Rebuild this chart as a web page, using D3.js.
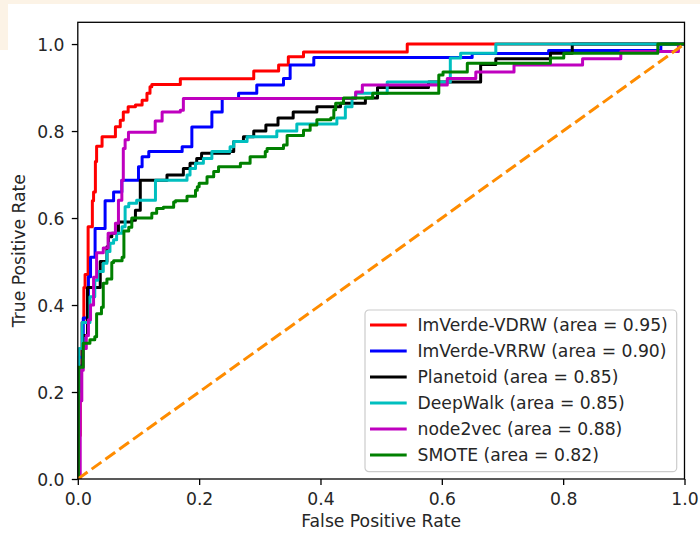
<!DOCTYPE html>
<html>
<head>
<meta charset="utf-8">
<script src="https://cdn.jsdelivr.net/npm/d3@7"></script>
<style>
  body { margin: 0; background: #fff; }
  text { font-family: "DejaVu Sans", sans-serif; fill: #262626; }
</style>
</head>
<body>
<div id="chart"></div>
<script>
const width = 700;
const height = 533;
const fontSize = "17.2px";

// ROC points [fpr, tpr]
const rocVDRW = [[0,0],[0,0.1],[0.004,0.3],[0.007,0.36],[0.01,0.44],[0.012,0.47],[0.017,0.58],[0.024,0.64],[0.026,0.66],[0.029,0.73],[0.031,0.765],[0.04,0.787],[0.062,0.81],[0.07,0.825],[0.075,0.844],[0.083,0.856],[0.095,0.86],[0.106,0.871],[0.114,0.887],[0.119,0.902],[0.122,0.907],[0.169,0.92],[0.29,0.938],[0.331,0.952],[0.347,0.971],[0.372,0.982],[0.543,1.0],[1,1]];
const rocVRRW = [[0,0],[0,0.28],[0.009,0.37],[0.0175,0.465],[0.021,0.51],[0.0285,0.576],[0.045,0.64],[0.059,0.66],[0.0726,0.687],[0.1,0.718],[0.106,0.741],[0.117,0.753],[0.172,0.764],[0.188,0.809],[0.221,0.844],[0.238,0.875],[0.265,0.887],[0.295,0.906],[0.339,0.921],[0.35,0.952],[0.389,0.969],[0.65,0.978],[0.776,0.985],[0.961,1.0],[1,1]];
const rocPlanetoid = [[0,0],[0,0.2],[0.002,0.26],[0.008,0.33],[0.016,0.44],[0.037,0.5],[0.048,0.534],[0.0505,0.557],[0.056,0.565],[0.067,0.591],[0.089,0.595],[0.095,0.618],[0.103,0.687],[0.147,0.699],[0.174,0.714],[0.185,0.726],[0.196,0.737],[0.204,0.749],[0.25,0.753],[0.257,0.776],[0.273,0.787],[0.29,0.8],[0.31,0.814],[0.33,0.83],[0.355,0.844],[0.394,0.856],[0.433,0.864],[0.474,0.876],[0.494,0.9],[0.578,0.913],[0.664,0.953],[0.689,0.966],[0.779,0.979],[0.815,1.0],[1,1]];
const rocDeepWalk = [[0,0],[0.002,0.3],[0.007,0.36],[0.02,0.419],[0.028,0.457],[0.033,0.477],[0.042,0.496],[0.048,0.523],[0.053,0.542],[0.059,0.55],[0.064,0.565],[0.073,0.58],[0.078,0.626],[0.084,0.634],[0.097,0.641],[0.128,0.687],[0.18,0.699],[0.185,0.714],[0.194,0.726],[0.207,0.737],[0.221,0.753],[0.251,0.764],[0.257,0.776],[0.279,0.787],[0.328,0.8],[0.361,0.816],[0.427,0.83],[0.441,0.856],[0.452,0.876],[0.458,0.887],[0.51,0.913],[0.614,0.968],[0.631,0.979],[0.689,1.0],[1,1]];
const rocNode2vec = [[0,0],[0.004,0.18],[0.0066,0.25],[0.009,0.3],[0.014,0.33],[0.0175,0.366],[0.021,0.4],[0.026,0.464],[0.031,0.52],[0.042,0.531],[0.05,0.565],[0.062,0.588],[0.067,0.641],[0.0726,0.687],[0.075,0.76],[0.078,0.78],[0.0835,0.797],[0.1276,0.823],[0.139,0.844],[0.169,0.848],[0.174,0.875],[0.458,0.89],[0.469,0.906],[0.609,0.921],[0.656,0.936],[0.719,0.952],[0.832,0.966],[0.895,0.983],[0.99,1.0],[1,1]];
const rocSMOTE = [[0,0],[0.001,0.257],[0.009,0.312],[0.02,0.32],[0.028,0.327],[0.031,0.38],[0.039,0.395],[0.042,0.45],[0.048,0.46],[0.056,0.498],[0.059,0.502],[0.073,0.51],[0.076,0.57],[0.084,0.579],[0.089,0.6],[0.122,0.611],[0.13,0.622],[0.141,0.625],[0.158,0.637],[0.161,0.64],[0.18,0.65],[0.194,0.664],[0.197,0.672],[0.2,0.68],[0.213,0.695],[0.224,0.707],[0.232,0.718],[0.268,0.726],[0.284,0.741],[0.309,0.753],[0.312,0.76],[0.339,0.768],[0.345,0.79],[0.372,0.802],[0.383,0.814],[0.394,0.826],[0.417,0.83],[0.422,0.849],[0.425,0.864],[0.438,0.876],[0.486,0.887],[0.595,0.929],[0.602,0.936],[0.642,0.956],[0.779,0.968],[0.801,0.979],[0.956,1.0],[1,1]];

const methods = ["ImVerde-VDRW", "ImVerde-VRRW", "Planetoid", "DeepWalk", "node2vec", "SMOTE"];
const areas = [0.95, 0.90, 0.85, 0.85, 0.88, 0.82];
const curves = [rocVDRW, rocVRRW, rocPlanetoid, rocDeepWalk, rocNode2vec, rocSMOTE];
const colors = ["#ff0000", "#0000ff", "#000000", "#00bfbf", "#bf00bf", "#008000"];
const tickValues = [0, 0.2, 0.4, 0.6, 0.8, 1.0];

const svg = d3
  .select("#chart")
  .append("svg")
  .attr("width", width)
  .attr("height", height);

// beige page edge of the screenshot
svg.append("rect").attr("width", width).attr("height", height).attr("fill", "#fff");
svg.append("rect").attr("width", width).attr("height", 4).attr("fill", "#fcf3e6");
svg.append("rect").attr("width", 8).attr("height", 50).attr("fill", "#fcf3e6");

const x = d3.scaleLinear().domain([0, 1]).range([77.8, 684.5]);
const y = d3.scaleLinear().domain([0, 1.05]).range([479, 22.3]);

svg
  .append("clipPath")
  .attr("id", "plot-clip")
  .append("rect")
  .attr("x", x(0))
  .attr("y", y(1.05))
  .attr("width", x(1) - x(0))
  .attr("height", y(0) - y(1.05));

const plot = svg.append("g").attr("clip-path", "url(#plot-clip)");

const line = d3
  .line()
  .x((d) => x(d[0]))
  .y((d) => y(d[1]))
  .curve(d3.curveStepAfter);

curves.forEach((c, i) => {
  plot
    .append("path")
    .datum(c)
    .attr("fill", "none")
    .attr("stroke", colors[i])
    .attr("stroke-width", 3)
    .attr("stroke-linejoin", "round")
    .attr("d", line);
});

// chance line
plot
  .append("path")
  .datum([[0, 0], [1, 1]])
  .attr("fill", "none")
  .attr("stroke", "#ff8c00")
  .attr("stroke-width", 3)
  .attr("stroke-dasharray", "12,5")
  .attr("d", d3.line().x((d) => x(d[0])).y((d) => y(d[1])));

// axes
const xAxis = svg
  .append("g")
  .attr("transform", `translate(0,${y(0)})`)
  .call(d3.axisBottom(x).tickValues(tickValues).tickFormat(d3.format(".1f")).tickSize(6).tickPadding(8));
const yAxis = svg
  .append("g")
  .attr("transform", `translate(${x(0)},0)`)
  .call(d3.axisLeft(y).tickValues(tickValues).tickFormat(d3.format(".1f")).tickSize(6).tickPadding(7.3));

[xAxis, yAxis].forEach((a) => {
  a.select(".domain").remove();
  a.selectAll("line").attr("stroke", "#000").attr("stroke-width", 1.3);
  a.selectAll("text").style("font-size", fontSize).attr("fill", "#262626");
});
yAxis.selectAll("text").attr("dy", "0.36em");

// frame
svg
  .append("rect")
  .attr("x", x(0))
  .attr("y", y(1.05))
  .attr("width", x(1) - x(0))
  .attr("height", y(0) - y(1.05))
  .attr("fill", "none")
  .attr("stroke", "#000")
  .attr("stroke-width", 1.3);

// axis labels
svg
  .append("text")
  .attr("x", (x(0) + x(1)) / 2)
  .attr("y", 527)
  .attr("text-anchor", "middle")
  .style("font-size", fontSize)
  .text("False Positive Rate");

svg
  .append("text")
  .attr("transform", `translate(25,${(y(0) + y(1.05)) / 2}) rotate(-90)`)
  .attr("text-anchor", "middle")
  .style("font-size", fontSize)
  .text("True Positive Rate");

// legend
const legend = svg.append("g").attr("transform", "translate(365,310)");
legend
  .append("rect")
  .attr("width", 311.7)
  .attr("height", 161.7)
  .attr("rx", 4)
  .attr("fill", "#fff")
  .attr("fill-opacity", 0.8)
  .attr("stroke", "#cccccc")
  .attr("stroke-width", 1.2);

methods.forEach((m, i) => {
  const cy = 15 + i * 26;
  legend
    .append("line")
    .attr("x1", 5)
    .attr("x2", 41.7)
    .attr("y1", cy)
    .attr("y2", cy)
    .attr("stroke", colors[i])
    .attr("stroke-width", 3);
  legend
    .append("text")
    .attr("x", 52.5)
    .attr("y", cy)
    .attr("dy", "0.36em")
    .style("font-size", fontSize)
    .text(`${m} (area = ${areas[i].toFixed(2)})`);
});
</script>
</body>
</html>
